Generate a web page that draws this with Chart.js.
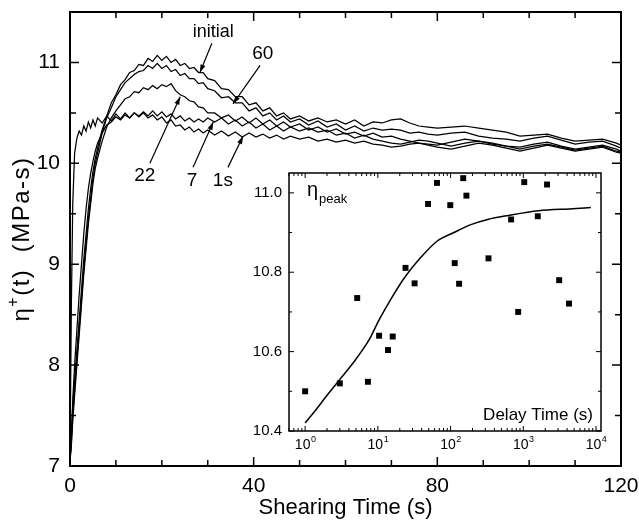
<!DOCTYPE html>
<html><head><meta charset="utf-8">
<script src="https://cdn.jsdelivr.net/npm/chart.js@4/dist/chart.umd.min.js"></script>
<style>
html,body{margin:0;padding:0;background:#fff;}
#wrap{position:relative;width:639px;height:521px;overflow:hidden;}
#main{position:absolute;left:0;top:0;}
#inset{position:absolute;left:245px;top:163px;}
</style></head><body>
<div id="wrap">
<canvas id="main" width="639" height="521"></canvas>
<canvas id="inset" width="368" height="292"></canvas>
</div>
<script>
// ---------- main chart data (shearing time in s, eta+ in MPa-s) ----------
const shearTime = [0,0.3,0.6,1,1.5,2,2.5,3,3.5,4,4.5,5,5.5,6,7,8,9,10,11,12,13,14,15,16,17,18,19,20,21,22,23,24,25,26,27,28,29,30,31.5,33,34.5,36,37.5,39,40.5,42,43.5,45,46.5,48,50,52,54,56,58,60,62,64,66,68,70,72,74,76,78,80,83,86,89,92,95,98,101,104,107,110,113,116,119,120];
const etaInitial = [7.05,7.3,7.6,7.85,8.15,8.45,8.75,9.05,9.3,9.55,9.75,9.92,10.05,10.15,
 10.33,10.47,10.6,10.68,10.78,10.83,10.9,10.92,10.98,10.97,11.04,11.01,11.07,11.02,11.06,11.0,11.03,10.97,10.99,10.94,10.95,10.9,10.9,10.84,
 10.82,10.74,10.73,10.66,10.66,10.58,10.6,10.52,10.55,10.47,10.5,10.44,
 10.47,10.42,10.45,10.41,10.43,10.39,10.43,10.37,10.41,10.40,10.43,10.44,10.40,10.37,10.36,10.35,
 10.36,10.37,10.35,10.33,10.31,10.27,10.28,10.29,10.25,10.22,10.23,10.24,10.2,10.18];
const eta60 = [7.05,7.25,7.5,7.75,8.05,8.35,8.65,8.95,9.2,9.45,9.65,9.85,10.0,10.1,
 10.3,10.45,10.55,10.66,10.73,10.8,10.84,10.88,10.91,10.92,10.97,10.94,10.99,10.94,10.97,10.91,10.93,10.87,10.89,10.84,10.84,10.79,10.8,10.74,
 10.72,10.65,10.66,10.6,10.6,10.52,10.55,10.47,10.5,10.43,10.47,10.41,
 10.44,10.38,10.42,10.36,10.39,10.33,10.37,10.32,10.35,10.33,10.34,10.33,10.30,10.31,10.29,10.28,
 10.30,10.31,10.27,10.25,10.24,10.22,10.25,10.27,10.23,10.19,10.21,10.22,10.17,10.15];
const eta22 = [7.05,7.2,7.45,7.7,8.0,8.3,8.6,8.9,9.15,9.4,9.6,9.8,9.95,10.05,
 10.22,10.36,10.45,10.52,10.58,10.64,10.66,10.71,10.7,10.75,10.73,10.77,10.74,10.78,10.76,10.79,10.72,10.68,10.66,10.62,10.61,10.56,10.55,10.5,
 10.5,10.45,10.48,10.42,10.46,10.4,10.45,10.39,10.43,10.37,10.41,10.36,
 10.39,10.33,10.36,10.31,10.34,10.29,10.31,10.27,10.3,10.26,10.27,10.24,10.22,10.2,10.19,10.18,
 10.21,10.24,10.22,10.19,10.17,10.16,10.19,10.21,10.17,10.14,10.16,10.18,10.14,10.12];
const eta7 = [7.05,7.3,7.65,8.0,8.35,8.7,9.0,9.3,9.55,9.75,9.9,10.02,10.12,10.2,
 10.3,10.38,10.41,10.46,10.43,10.48,10.45,10.5,10.47,10.51,10.47,10.52,10.47,10.51,10.46,10.49,10.44,10.47,10.42,10.45,10.41,10.44,10.41,10.45,
 10.41,10.45,10.39,10.43,10.37,10.41,10.35,10.39,10.33,10.37,10.32,10.36,
 10.32,10.35,10.31,10.33,10.28,10.3,10.25,10.28,10.24,10.22,10.2,10.19,10.21,10.23,10.22,10.2,
 10.17,10.2,10.22,10.2,10.17,10.14,10.17,10.19,10.16,10.13,10.15,10.17,10.12,10.11];
const eta1s = [7.1,8.6,9.6,10.1,10.25,10.32,10.28,10.37,10.32,10.41,10.35,10.43,10.37,10.45,
 10.4,10.47,10.42,10.49,10.44,10.5,10.45,10.5,10.46,10.5,10.45,10.48,10.43,10.46,10.4,10.43,10.37,10.38,10.33,10.36,10.31,10.34,10.3,10.33,
 10.28,10.32,10.27,10.31,10.26,10.3,10.26,10.29,10.25,10.28,10.24,10.27,
 10.24,10.26,10.22,10.24,10.21,10.23,10.2,10.22,10.19,10.18,10.16,10.17,10.19,10.2,10.18,10.16,
 10.14,10.17,10.2,10.18,10.15,10.12,10.15,10.18,10.15,10.12,10.14,10.16,10.11,10.1];
const mainXTicks = [0,40,80,120];
const mainYTicks = [7,8,9,10,11];

// ---------- inset data (delay time in s, eta_peak) ----------
const delayTime = [1,3,5.2,7.3,10.4,13.8,16,24,32,49,65,99,114,131,149,165,332,680,850,1030,1580,2120,3110,4250];
const etaPeak = [10.50,10.52,10.735,10.524,10.64,10.604,10.638,10.811,10.772,10.972,11.025,10.969,10.823,10.771,11.037,10.993,10.835,10.933,10.70,11.027,10.941,11.021,10.78,10.721];
const fitDelay = [1,1.5,2,3,4.5,7.6,10.4,16,24,38,65,111,190,324,620,1620,4700,8500];
const fitEta = [10.42,10.46,10.49,10.53,10.57,10.63,10.68,10.74,10.79,10.835,10.878,10.90,10.92,10.933,10.943,10.955,10.96,10.963];
const insetYTicks = [10.4,10.6,10.8,11.0];
const insetXExponents = [0,1,2,3,4];

const FONT = "'Liberation Sans', Arial, Helvetica, sans-serif";
Chart.defaults.font.family = FONT;
Chart.defaults.color = '#000';

const pts = (xs, ys) => xs.map((x, i) => ({x, y: ys[i]}));
const noPad = s => { s.paddingTop = 0; s.paddingBottom = 0; s.paddingLeft = 0; s.paddingRight = 0; };

// annotations: label + arrow, in data coordinates
const notes = [
  {text:'initial', size:18, at:[31.2,11.30], from:[30.9,11.19], to:[28.3,10.90]},
  {text:'60', size:19, at:[42.0,11.09], from:[41.4,10.97], to:[35.5,10.59]},
  {text:'22', size:19, at:[16.3,9.88], from:[17.4,10.00], to:[24.0,10.66]},
  {text:'7', size:19, at:[26.6,9.83], from:[26.8,9.96], to:[31.2,10.41]},
  {text:'1s', size:19, at:[33.3,9.83], from:[34.4,9.96], to:[37.7,10.27]}
];

function arrow(ctx, x1, y1, x2, y2) {
  ctx.beginPath(); ctx.moveTo(x1, y1); ctx.lineTo(x2, y2); ctx.stroke();
  const a = Math.atan2(y2 - y1, x2 - x1), L = 8, W = 2.6;
  ctx.beginPath();
  ctx.moveTo(x2, y2);
  ctx.lineTo(x2 - L*Math.cos(a) + W*Math.sin(a), y2 - L*Math.sin(a) - W*Math.cos(a));
  ctx.lineTo(x2 - L*Math.cos(a) - W*Math.sin(a), y2 - L*Math.sin(a) + W*Math.cos(a));
  ctx.closePath(); ctx.fill();
}

const mainFrame = {
  id: 'mainFrame',
  afterDraw(chart) {
    const {ctx, chartArea: a, scales: {x, y}} = chart;
    ctx.save();
    ctx.strokeStyle = '#000'; ctx.fillStyle = '#000';
    ctx.lineWidth = 2;
    ctx.strokeRect(a.left, a.top, a.right - a.left, a.bottom - a.top);
    ctx.lineWidth = 1.5;
    ctx.beginPath();
    for (let t = x.min; t <= x.max; t += 10) {
      const px = x.getPixelForValue(t), L = (t % 40 === 0) ? 9 : 6;
      ctx.moveTo(px, a.bottom); ctx.lineTo(px, a.bottom - L);
      ctx.moveTo(px, a.top); ctx.lineTo(px, a.top + L);
    }
    for (let v = y.min; v <= y.max + 1e-9; v += 0.5) {
      const py = y.getPixelForValue(v), L = Number.isInteger(v) ? 9 : 6;
      ctx.moveTo(a.left, py); ctx.lineTo(a.left + L, py);
      ctx.moveTo(a.right, py); ctx.lineTo(a.right - L, py);
    }
    ctx.stroke();
    // annotations
    ctx.lineWidth = 1.2;
    ctx.textAlign = 'center'; ctx.textBaseline = 'middle';
    notes.forEach(n => {
      ctx.font = n.size + 'px ' + FONT;
      ctx.fillText(n.text, x.getPixelForValue(n.at[0]), y.getPixelForValue(n.at[1]));
      arrow(ctx, x.getPixelForValue(n.from[0]), y.getPixelForValue(n.from[1]),
                 x.getPixelForValue(n.to[0]), y.getPixelForValue(n.to[1]));
    });
    // y-axis title: eta^+(t) (MPa-s)
    ctx.translate(22, (a.top + a.bottom) / 2);
    ctx.rotate(-Math.PI / 2);
    ctx.textAlign = 'left'; ctx.textBaseline = 'middle';
    if ('letterSpacing' in ctx) ctx.letterSpacing = '1.5px';
    const parts = [
      {t:'η', f:'24px', dy:0},
      {t:'+', f:'16px', dy:-8},
      {t:'(t)  (MPa-s)', f:'24px', dy:0}
    ];
    let total = 0;
    parts.forEach(p => { ctx.font = p.f + ' ' + FONT; p.w = ctx.measureText(p.t).width; total += p.w; });
    let cx = -total / 2;
    parts.forEach(p => { ctx.font = p.f + ' ' + FONT; ctx.fillText(p.t, cx, p.dy); cx += p.w; });
    ctx.restore();
  }
};

const lineStyle = {borderColor:'#000', borderWidth:1.25, pointRadius:0, fill:false, tension:0};

new Chart(document.getElementById('main'), {
  type: 'line',
  data: {
    datasets: [
      {label:'initial', data: pts(shearTime, etaInitial), ...lineStyle},
      {label:'60', data: pts(shearTime, eta60), ...lineStyle},
      {label:'22', data: pts(shearTime, eta22), ...lineStyle},
      {label:'7', data: pts(shearTime, eta7), ...lineStyle},
      {label:'1s', data: pts(shearTime, eta1s), ...lineStyle}
    ]
  },
  options: {
    responsive: false, animation: false, devicePixelRatio: 1,
    layout: {padding: {top: 12, right: 18, left: 0, bottom: 0}},
    plugins: {legend: {display: false}, tooltip: {enabled: false}},
    scales: {
      x: {
        type: 'linear', min: 0, max: 120,
        afterBuildTicks: s => { s.ticks = mainXTicks.map(v => ({value: v})); },
        afterFit: s => { s.height = 55; noPad(s); },
        grid: {display: false, drawTicks: false}, border: {display: false},
        ticks: {font: {size: 21}, padding: 8, maxRotation: 0, autoSkip: false},
        title: {display: true, text: 'Shearing Time (s)', font: {size: 22}, padding: {top: 0, bottom: 0}}
      },
      y: {
        type: 'linear', min: 7, max: 11.5,
        afterBuildTicks: s => { s.ticks = mainYTicks.map(v => ({value: v})); },
        afterFit: s => { s.width = 70; noPad(s); },
        grid: {display: false, drawTicks: false}, border: {display: false},
        ticks: {font: {size: 21}, padding: 10}
      }
    }
  },
  plugins: [mainFrame]
});

// ---------- inset ----------
const insetFrame = {
  id: 'insetFrame',
  afterDraw(chart) {
    const {ctx, chartArea: a, scales: {x, y}} = chart;
    ctx.save();
    ctx.strokeStyle = '#000'; ctx.fillStyle = '#000';
    ctx.lineWidth = 1.5;
    ctx.strokeRect(a.left, a.top, a.right - a.left, a.bottom - a.top);
    ctx.lineWidth = 1;
    ctx.beginPath();
    for (let e = -1; e <= 4; e++) {
      for (let m = 1; m <= 9; m++) {
        const v = m * Math.pow(10, e);
        if (v < x.min || v > x.max) continue;
        const px = x.getPixelForValue(v), L = m === 1 ? 5 : 3;
        ctx.moveTo(px, a.bottom); ctx.lineTo(px, a.bottom - L);
        ctx.moveTo(px, a.top); ctx.lineTo(px, a.top + L);
      }
    }
    for (let k = 0; k <= 6; k++) {
      const v = 10.4 + k * 0.1, py = y.getPixelForValue(v), L = k % 2 === 0 ? 5 : 3;
      ctx.moveTo(a.left, py); ctx.lineTo(a.left + L, py);
      ctx.moveTo(a.right, py); ctx.lineTo(a.right - L, py);
    }
    ctx.stroke();
    // x tick labels 10^n
    ctx.textBaseline = 'alphabetic';
    insetXExponents.forEach(e => {
      const px = x.getPixelForValue(Math.pow(10, e));
      ctx.font = '14px ' + FONT;
      const w1 = ctx.measureText('10').width;
      ctx.font = '9px ' + FONT;
      const w2 = ctx.measureText(String(e)).width;
      const x0 = px - (w1 + w2) / 2;
      ctx.font = '14px ' + FONT; ctx.textAlign = 'left';
      ctx.fillText('10', x0, a.bottom + 18);
      ctx.font = '9px ' + FONT;
      ctx.fillText(String(e), x0 + w1 + 0.5, a.bottom + 11);
    });
    // labels inside
    ctx.textAlign = 'left';
    ctx.font = '20px ' + FONT;
    ctx.fillText('η', a.left + 18, a.top + 23);
    const we = ctx.measureText('η').width;
    ctx.font = '13px ' + FONT;
    ctx.fillText('peak', a.left + 18 + we + 1, a.top + 30);
    ctx.textAlign = 'right';
    ctx.font = '17px ' + FONT;
    ctx.fillText('Delay Time (s)', a.right - 8, a.bottom - 11);
    ctx.restore();
  }
};

new Chart(document.getElementById('inset'), {
  type: 'scatter',
  data: {
    datasets: [
      {label:'eta_peak', data: pts(delayTime, etaPeak), pointStyle:'rect', pointRadius:4.2,
       backgroundColor:'#000', borderColor:'#000', borderWidth:0, showLine:false},
      {label:'fit', type:'line', data: pts(fitDelay, fitEta), borderColor:'#000', borderWidth:1.5,
       pointRadius:0, fill:false, cubicInterpolationMode:'monotone'}
    ]
  },
  options: {
    responsive: false, animation: false, devicePixelRatio: 1,
    layout: {padding: {top: 10, right: 12, left: 0, bottom: 0}},
    plugins: {legend: {display: false}, tooltip: {enabled: false}},
    scales: {
      x: {
        type: 'logarithmic', min: 0.6, max: 11700,
        afterFit: s => { s.height = 24; noPad(s); },
        grid: {display: false, drawTicks: false}, border: {display: false},
        ticks: {display: false}
      },
      y: {
        type: 'linear', min: 10.4, max: 11.05,
        afterBuildTicks: s => { s.ticks = insetYTicks.map(v => ({value: v})); },
        afterFit: s => { s.width = 44; noPad(s); },
        grid: {display: false, drawTicks: false}, border: {display: false},
        ticks: {font: {size: 15}, padding: 7, callback: v => Number(v).toFixed(1)}
      }
    }
  },
  plugins: [insetFrame]
});
</script>
</body></html>
